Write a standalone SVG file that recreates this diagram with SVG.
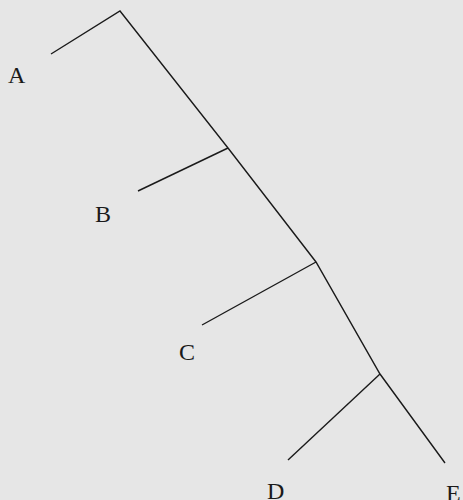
<svg xmlns="http://www.w3.org/2000/svg" width="463" height="500" viewBox="0 0 463 500">
<style>
.edge{fill:none;stroke:#1a1a1a;stroke-width:1.4;stroke-linecap:butt;stroke-linejoin:miter}
.lbl{font-family:"Liberation Serif","Times New Roman",serif;font-size:24px;fill:#1a1a1a}
</style>
<rect width="463" height="500" fill="#e6e6e6"/>
<g id="connectors">
<polyline class="edge" points="51,54 120,11 228,148 316,262 380,374 445,463"/>
<line class="edge" x1="228" y1="148" x2="138" y2="191"/>
<line class="edge" x1="316" y1="262" x2="202" y2="325"/>
<line class="edge" x1="380" y1="374" x2="288" y2="460"/>
</g>
<g id="A"><text class="lbl" x="8" y="83">A</text></g>
<g id="B"><text class="lbl" x="95" y="222">B</text></g>
<g id="C"><text class="lbl" x="179" y="360">C</text></g>
<g id="D"><text class="lbl" x="267" y="499">D</text></g>
<g id="E"><text class="lbl" x="446" y="501">E</text></g>
</svg>
